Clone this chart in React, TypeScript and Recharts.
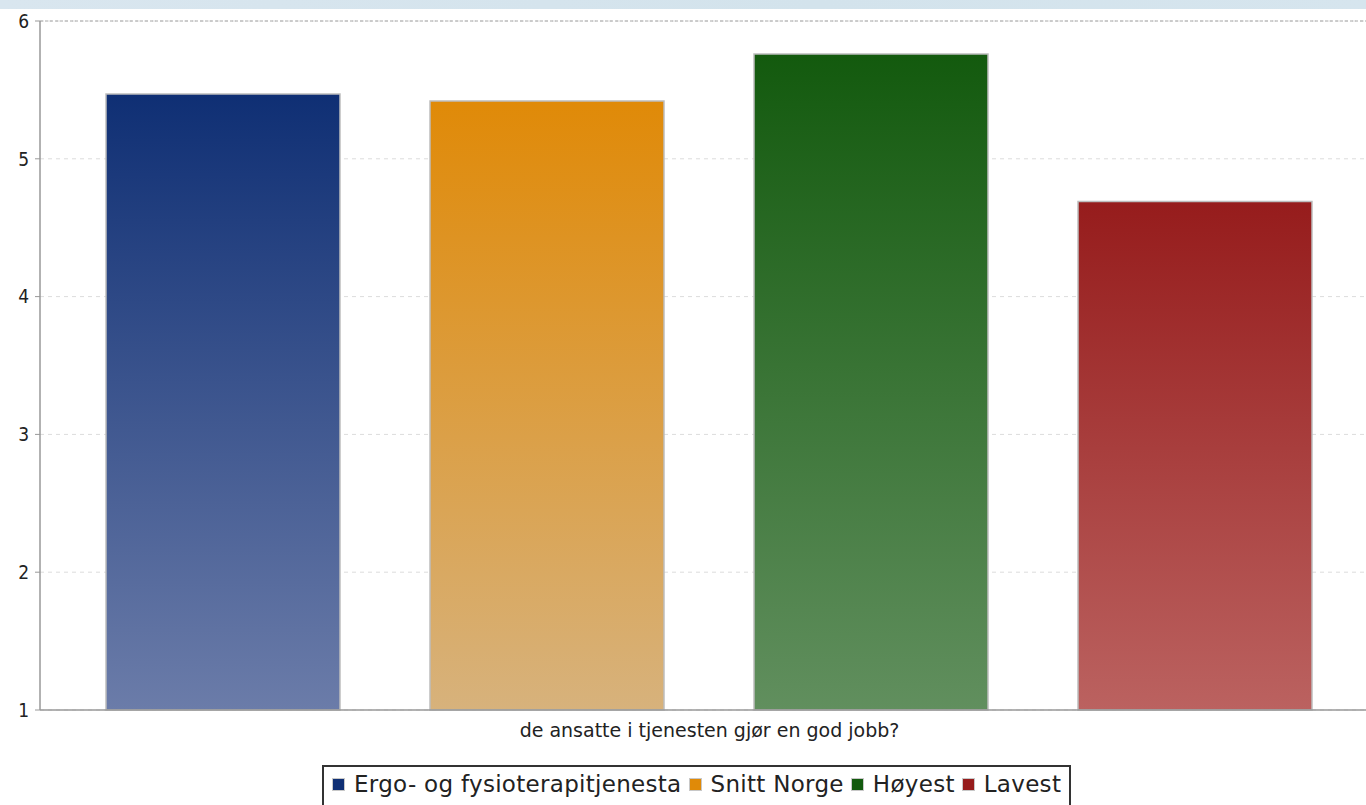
import React from 'react';
import { BarChart, Bar, XAxis, YAxis, CartesianGrid, ReferenceLine } from 'recharts';

const categories = ['de ansatte i tjenesten gjør en god jobb?'];
const seriesNames = ['Ergo- og fysioterapitjenesta', 'Snitt Norge', 'Høyest', 'Lavest'];
const seriesValues = [5.47, 5.42, 5.76, 4.69];
const yTicks = [1, 2, 3, 4, 5, 6];

// top / bottom colours of each bar gradient; top colour is also the legend swatch
const topColors = ['#0f2f74', '#e08a08', '#135a0e', '#961c1c'];
const bottomColors = ['#6b7ca9', '#d7b27c', '#618f5e', '#bb6260'];

const data = categories.map((name) => {
  const row: Record<string, string | number> = { name };
  seriesNames.forEach((s, i) => {
    row['s' + i] = seriesValues[i];
  });
  return row;
});

const font = '"DejaVu Sans", sans-serif';
const condensed = '"DejaVu Sans Condensed", "DejaVu Sans", sans-serif';

function LegendBox() {
  return (
    <div
      style={{
        position: 'absolute',
        left: 322,
        top: 765,
        display: 'flex',
        alignItems: 'center',
        border: '2px solid #333',
        borderBottom: 'none',
        padding: '4px 8px 14px 8px',
        fontFamily: font,
        fontSize: 23,
        letterSpacing: 0.3,
        lineHeight: '27px',
        color: '#222',
        background: '#fff',
        whiteSpace: 'nowrap',
      }}
    >
      {seriesNames.map((s, i) => (
        <span
          key={s}
          style={{ display: 'flex', alignItems: 'center', marginRight: i < seriesNames.length - 1 ? 7 : 0 }}
        >
          <span
            style={{
              display: 'inline-block',
              width: 11,
              height: 11,
              background: topColors[i],
              border: '1px solid #c8c8c8',
              marginRight: 9,
            }}
          />
          {s}
        </span>
      ))}
    </div>
  );
}

export default function App() {
  return (
    <div style={{ position: 'fixed', left: 0, top: 0, width: 1366, height: 805, overflow: 'hidden', background: '#fff' }}>
      <div
        style={{
          position: 'absolute',
          left: 0,
          top: 0,
          width: 1366,
          height: 9,
          background: 'linear-gradient(to right, #d9e6ef, #d3e3ec 60%, #d6e5ee)',
        }}
      />
      <BarChart
        width={1390}
        height={805}
        data={data}
        margin={{ top: 21, right: 11, left: 0, bottom: 55 }}
        barCategoryGap={66}
        barGap={90}
      >
        <defs>
          {seriesNames.map((s, i) => (
            <linearGradient key={s} id={'grad' + i} x1="0" y1="0" x2="0" y2="1">
              <stop offset="0%" stopColor={topColors[i]} />
              <stop offset="100%" stopColor={bottomColors[i]} />
            </linearGradient>
          ))}
        </defs>
        <CartesianGrid vertical={false} stroke="#dcdcdc" strokeDasharray="4 4" />
        <ReferenceLine y={6} stroke="#a8a8a8" strokeDasharray="3 2" />
        <XAxis
          dataKey="name"
          height={40}
          tickLine={false}
          tickMargin={8}
          axisLine={{ stroke: '#999', strokeWidth: 1.5 }}
          tick={{ fontFamily: font, fontSize: 19, fill: '#222' }}
        />
        <YAxis
          type="number"
          domain={[1, 6]}
          ticks={yTicks}
          width={40}
          tickSize={5}
          tickMargin={6}
          tickLine={{ stroke: '#999' }}
          axisLine={{ stroke: '#999', strokeWidth: 1.5 }}
          tick={{ fontFamily: condensed, fontSize: 19, fill: '#222' }}
        />
        {seriesNames.map((s, i) => (
          <Bar
            key={s}
            dataKey={'s' + i}
            name={s}
            fill={`url(#grad${i})`}
            stroke="#bdbdbd"
            strokeWidth={1.5}
            isAnimationActive={false}
          />
        ))}
      </BarChart>
      <LegendBox />
    </div>
  );
}
